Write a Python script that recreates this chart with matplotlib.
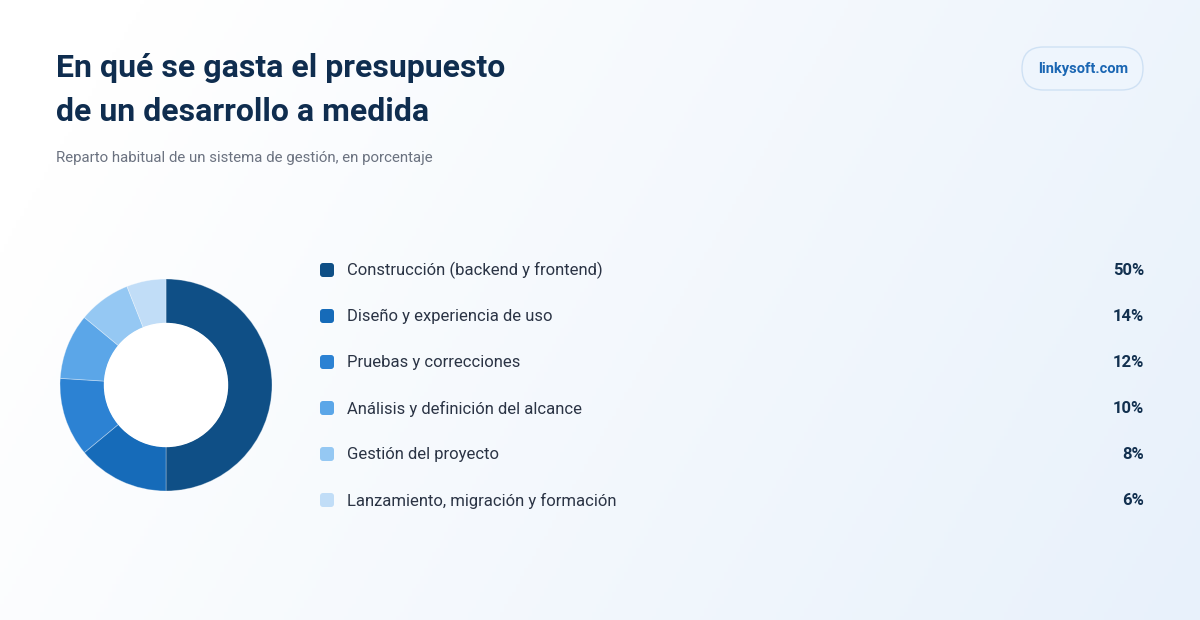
import numpy as np
import matplotlib
matplotlib.use("Agg")
import matplotlib.pyplot as plt
from matplotlib.patches import FancyBboxPatch

# ---- data ----
categories = [
    "Construcción (backend y frontend)",
    "Diseño y experiencia de uso",
    "Pruebas y correcciones",
    "Análisis y definición del alcance",
    "Gestión del proyecto",
    "Lanzamiento, migración y formación",
]
values = [50, 14, 12, 10, 8, 6]
colors = ["#0f4f86", "#166bb9", "#2c82d3", "#5ba6e8", "#95c8f3", "#c1ddf7"]
title_lines = ["En qué se gasta el presupuesto", "de un desarrollo a medida"]
subtitle = "Reparto habitual de un sistema de gestión, en porcentaje"
badge = "linkysoft.com"

W, H = 1200, 620
fig = plt.figure(figsize=(W / 100, H / 100), dpi=100)

# background axes in pixel coords (y down)
bg = fig.add_axes([0, 0, 1, 1])
bg.set_xlim(0, W)
bg.set_ylim(H, 0)
bg.axis("off")
yy, xx = np.mgrid[0:H:4, 0:W:4]
t = np.clip((xx / W) * 0.85 + (yy / H) * 0.25 - 0.1, 0, 1)
c0 = np.array([1.0, 1.0, 1.0])
c1 = np.array([0xe8, 0xf1, 0xfb]) / 255
img = c0[None, None, :] * (1 - t[..., None]) + c1[None, None, :] * t[..., None]
bg.imshow(img, extent=[0, W, H, 0], aspect="auto", zorder=0)

font = "Roboto"
bg.text(56, 68, title_lines[0], fontsize=23, fontweight="bold", color="#0f2d4f",
        family=font, va="center", ha="left")
bg.text(56, 112, title_lines[1], fontsize=23, fontweight="bold", color="#0f2d4f",
        family=font, va="center", ha="left")
bg.text(56, 158, subtitle, fontsize=10.8, color="#6b7280", family=font,
        va="center", ha="left")

# badge
pill = FancyBboxPatch((1022, 47), 121, 43,
                      boxstyle="round,pad=0,rounding_size=21.5",
                      facecolor="#eef5fd", edgecolor="#cfe1f4", linewidth=1.0, zorder=2)
bg.add_patch(pill)
bg.text(1083, 69, badge, fontsize=10.5, fontweight="bold", color="#1a66b3",
        family=font, va="center", ha="center", zorder=3)

# legend rows
y0, dy = 270, 46
for i, (cat, v, col) in enumerate(zip(categories, values, colors)):
    y = y0 + i * dy
    sw = FancyBboxPatch((320, y - 7), 14, 14, boxstyle="round,pad=0,rounding_size=3",
                        facecolor=col, edgecolor="none", zorder=2)
    bg.add_patch(sw)
    bg.text(347, y + 0.5, cat, fontsize=12, color="#2b3445", family=font,
            va="center", ha="left", zorder=3)
    bg.text(1144, y + 0.5, f"{v}%", fontsize=12, fontweight="bold", color="#12304f",
            family=font, va="center", ha="right", zorder=3)

# donut
cx, cy, R, r = 166, 385, 106, 61.5
ax = fig.add_axes([(cx - R) / W, (H - cy - R) / H, 2 * R / W, 2 * R / H])
ax.pie(values, colors=colors, startangle=90, counterclock=False, radius=1,
       wedgeprops=dict(width=(R - r) / R, edgecolor=(1, 1, 1, 0.35), linewidth=0.6))
ax.set_xlim(-1, 1)
ax.set_ylim(-1, 1)
ax.set_aspect("equal")
ax.axis("off")
inner = plt.Circle((0, 0), r / R, color="white", zorder=5)
ax.add_patch(inner)

fig.savefig("out.png", dpi=100)
